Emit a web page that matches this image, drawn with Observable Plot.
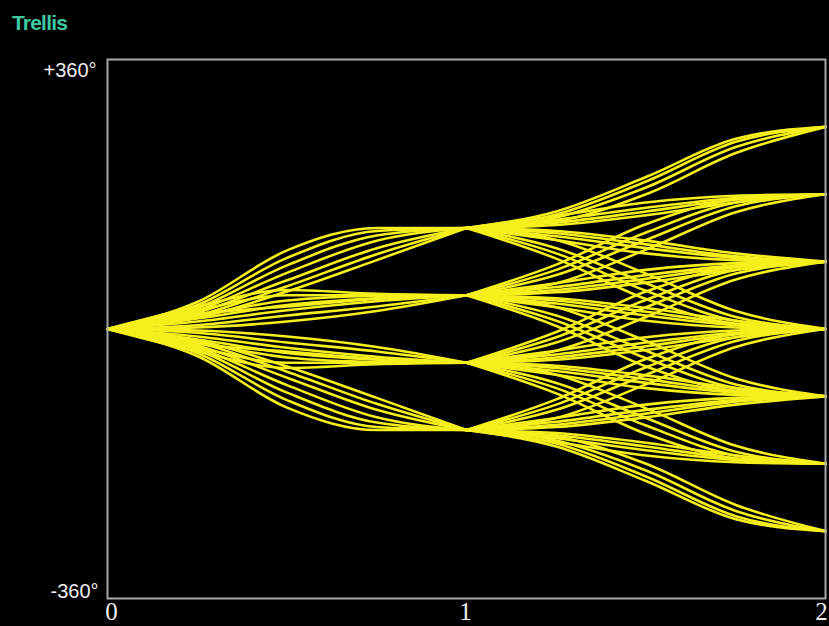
<!DOCTYPE html>
<html>
<head>
<meta charset="utf-8">
<script src="https://cdn.jsdelivr.net/npm/d3@7"></script>
<script src="https://cdn.jsdelivr.net/npm/@observablehq/plot@0.6"></script>
<style>
  html, body { margin: 0; padding: 0; background: #000; }
  #wrap { position: relative; width: 829px; height: 626px; overflow: hidden; background: #000; }
  #title { position: absolute; left: 12px; top: 12px; font: bold 21px "Liberation Sans", Arial, sans-serif; line-height: 22px; letter-spacing: -0.8px; color: #3fc9a3; }
  #chart { position: absolute; left: 0; top: 0; }
</style>
</head>
<body>
<div id="wrap">
  <div id="chart"></div>
  <div id="title">Trellis</div>
</div>
<script>
// Tick labels
const xTicks = [0, 1, 2];
const yTicks = [360, -360];
const yTickLabels = ["+360°", "-360°"];

// Sample times within one symbol interval
const sampleOffsets = [0, 0.25, 0.5, 0.75, 1];

// Phase (degrees) of trajectories in the first interval, at t = 0, .25, .5, .75, 1
const firstSymbolPaths = [
  [0, 36, 105, 135, 135],
  [0, 32, 95, 131, 135],
  [0, 28, 85, 125, 135],
  [0, 25, 75, 118, 135],
  [0, 22, 65, 108, 135],
  [0, 18, 57, 100, 135],
  [0, 15, 50, 92, 135],
  [0, 30, 52, 47, 45],
  [0, 25, 45, 45, 45],
  [0, 20, 30, 40, 45],
  [0, 18, 38, 44, 45],
  [0, 14, 32, 41, 45],
  [0, 10, 25, 37, 45],
  [0, 5, 18, 30, 45],
  [0, 2, 10, 24, 45],
  [0, -30, -52, -47, -45],
  [0, -25, -45, -45, -45],
  [0, -20, -30, -40, -45],
  [0, -18, -38, -44, -45],
  [0, -14, -32, -41, -45],
  [0, -10, -25, -37, -45],
  [0, -5, -18, -30, -45],
  [0, -2, -10, -24, -45],
  [0, -36, -105, -135, -135],
  [0, -32, -95, -131, -135],
  [0, -28, -85, -125, -135],
  [0, -25, -75, -118, -135],
  [0, -22, -65, -108, -135],
  [0, -18, -57, -100, -135],
  [0, -15, -50, -92, -135]
];

// Phase (degrees) of trajectories in the second interval, at t = 1, 1.25, 1.5, 1.75, 2
const secondSymbolPaths = [
  [135, 153, 197, 250, 270],
  [135, 149, 189, 243, 270],
  [135, 157, 203, 254, 270],
  [135, 144, 180, 235, 270],
  [135, 146, 162, 175, 180],
  [135, 142, 157, 173, 180],
  [135, 139, 152, 169, 180],
  [135, 151, 169, 178, 180],
  [135, 124, 108, 95, 90],
  [135, 128, 113, 97, 90],
  [135, 131, 118, 101, 90],
  [135, 119, 101, 92, 90],
  [135, 108, 61, 16, 0],
  [135, 119, 74, 24, 0],
  [135, 101, 51, 11, 0],
  [135, 94, 40, 7, 0],
  [45, 72, 119, 164, 180],
  [45, 61, 106, 156, 180],
  [45, 79, 129, 169, 180],
  [45, 86, 140, 173, 180],
  [45, 56, 72, 85, 90],
  [45, 52, 67, 83, 90],
  [45, 49, 62, 79, 90],
  [45, 61, 79, 88, 90],
  [45, 34, 18, 5, 0],
  [45, 38, 23, 7, 0],
  [45, 41, 28, 11, 0],
  [45, 29, 11, 2, 0],
  [45, 18, -29, -74, -90],
  [45, 29, -16, -66, -90],
  [45, 11, -39, -79, -90],
  [45, 4, -50, -83, -90],
  [-45, -18, 29, 74, 90],
  [-45, -29, 16, 66, 90],
  [-45, -11, 39, 79, 90],
  [-45, -4, 50, 83, 90],
  [-45, -34, -18, -5, 0],
  [-45, -38, -23, -7, 0],
  [-45, -41, -28, -11, 0],
  [-45, -29, -11, -2, 0],
  [-45, -56, -72, -85, -90],
  [-45, -52, -67, -83, -90],
  [-45, -49, -62, -79, -90],
  [-45, -61, -79, -88, -90],
  [-45, -72, -119, -164, -180],
  [-45, -61, -106, -156, -180],
  [-45, -79, -129, -169, -180],
  [-45, -86, -140, -173, -180],
  [-135, -108, -61, -16, 0],
  [-135, -119, -74, -24, 0],
  [-135, -101, -51, -11, 0],
  [-135, -94, -40, -7, 0],
  [-135, -124, -108, -95, -90],
  [-135, -128, -113, -97, -90],
  [-135, -131, -118, -101, -90],
  [-135, -119, -101, -92, -90],
  [-135, -146, -162, -175, -180],
  [-135, -142, -157, -173, -180],
  [-135, -139, -152, -169, -180],
  [-135, -151, -169, -178, -180],
  [-135, -153, -197, -250, -270],
  [-135, -149, -189, -243, -270],
  [-135, -157, -203, -254, -270],
  [-135, -144, -180, -235, -270]
];

const traces = [];
firstSymbolPaths.forEach((p, i) => p.forEach((v, j) => traces.push({id: "a" + i, t: 0 + sampleOffsets[j], phase: v})));
secondSymbolPaths.forEach((p, i) => p.forEach((v, j) => traces.push({id: "b" + i, t: 1 + sampleOffsets[j], phase: v})));

const yLabelRows = yTicks.map((v, i) => ({v, label: yTickLabels[i]}));
const xFont = {frameAnchor: "bottom", lineAnchor: "bottom", dy: 21, fill: "#eeeeee", fontSize: 25, fontFamily: "Liberation Serif, Times New Roman, serif", ariaLabel: "x-tick-labels"};

const chart = Plot.plot({
  width: 829,
  height: 626,
  marginLeft: 107,
  marginRight: 4,
  marginTop: 59,
  marginBottom: 28,
  style: {background: "#000", color: "#eee", overflow: "visible"},
  x: {domain: [0, 2], axis: null},
  y: {domain: [-360, 360], axis: null},
  marks: [
    Plot.line(traces, {x: "t", y: "phase", z: "id", stroke: "#f5ef1c", strokeWidth: 2.6, curve: "monotone-x"}),
    Plot.frame({stroke: "#a8a8a8", strokeWidth: 2}),
    Plot.text(yLabelRows.slice(0, 1), {y: "v", text: "label", frameAnchor: "left", textAnchor: "end", lineAnchor: "top", dx: -11, dy: 3, fill: "#eeeeee", fontSize: 20, fontFamily: "Liberation Sans, Arial, sans-serif"}),
    Plot.text(yLabelRows.slice(1), {y: "v", text: "label", frameAnchor: "left", textAnchor: "end", lineAnchor: "bottom", dx: -9, dy: -1, fill: "#eeeeee", fontSize: 20, fontFamily: "Liberation Sans, Arial, sans-serif"}),
    Plot.text(xTicks.slice(0, 1), {x: d => d, text: d => String(d), dx: 4, ...xFont}),
    Plot.text(xTicks.slice(1, 2), {x: d => d, text: d => String(d), dx: -1, ...xFont}),
    Plot.text(xTicks.slice(2), {x: d => d, text: d => String(d), dx: -4, ...xFont})
  ]
});
document.getElementById("chart").appendChild(chart);

// condense the x tick digits horizontally, as in the reference
chart.querySelectorAll('g[aria-label="x-tick-labels"] text').forEach(t => {
  const tr = t.getAttribute("transform");
  if (tr) {
    t.setAttribute("transform", tr + " scale(0.6,1)");
  } else {
    const x = +t.getAttribute("x") || 0, y = +t.getAttribute("y") || 0;
    t.removeAttribute("x"); t.removeAttribute("y");
    t.setAttribute("transform", `translate(${x},${y}) scale(0.6,1)`);
  }
});
</script>
</body>
</html>
